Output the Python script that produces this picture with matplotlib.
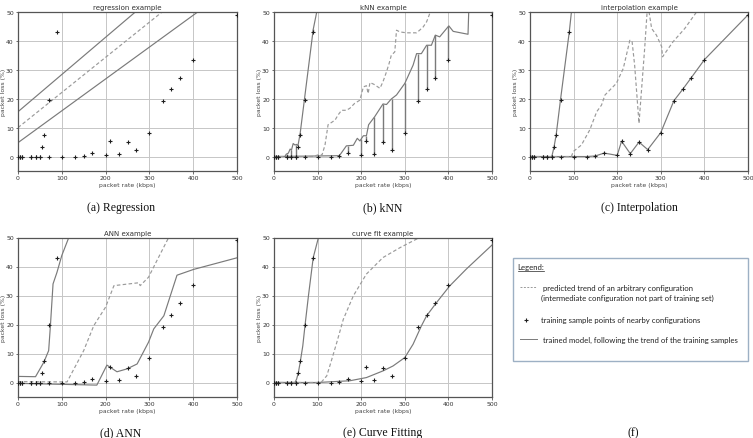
import matplotlib
matplotlib.use("Agg")
import matplotlib.pyplot as plt
import numpy as np
from matplotlib.lines import Line2D
from matplotlib.patches import Rectangle

# ---------------- data ----------------
x_ticks = [0, 100, 200, 300, 400, 500]
y_ticks = [0, 10, 20, 30, 40, 50]

# training samples: left (steep) configuration and right (gradual) configuration
left_x = [0, 5, 10, 30, 40, 50, 55, 60, 70, 90, 100]
left_y = [0, 0, 0, 0, 0, 0, 3.2, 7.5, 19.7, 43.0, 57.0]
right_x = [0, 5, 10, 30, 40, 50, 70, 100, 130, 150, 170, 200, 210, 230, 250,
           270, 300, 330, 350, 370, 400, 500]
right_y = [0, 0, 0, 0, 0, 0, 0, 0, 0, 0.2, 1.2, 0.4, 5.3, 1.0, 5.0,
           2.4, 8.3, 19.3, 23.2, 27.3, 33.5, 49.0]

# (a) regression
reg_x = [0, 500]
reg_upper = [15.5, 79.9]
reg_dashed = [10.0, 70.8]
reg_lower = [4.8, 59.9]

# (b) kNN
knn_left_x = [0, 25, 28, 33, 37, 40, 44, 48, 52, 55, 60, 70, 90, 98, 100]
knn_left_y = [0, 0, 0.8, 1.2, 2.6, 2.2, 4.5, 4.0, 4.2, 3.8, 8.0, 20.0, 44.0, 50.0, 52.0]
knn_right_x = [0, 150, 166, 182, 191, 197, 205, 212, 217, 231, 250, 258, 269, 281,
               300, 319, 327, 338, 350, 361, 370, 380, 401, 411, 445, 447]
knn_right_y = [0, 0.3, 3.7, 3.9, 6.3, 5.4, 7.2, 7.2, 11.0, 13.8, 18.2, 18.0, 19.9, 21.3,
               25.3, 31.6, 35.6, 35.6, 38.5, 38.5, 42.0, 41.4, 45.2, 43.3, 42.3, 52.0]
knn_dash_x = [0, 90, 105, 110, 117, 124, 132, 140, 147, 155, 166, 174, 185, 197, 205,
              212, 216, 220, 229, 243, 250, 258, 264, 269, 277, 281, 289, 304, 327,
              334, 342, 350, 357, 365]
knn_dash_y = [0, 0, 0.8, 0.5, 4.0, 11.0, 11.8, 12.6, 14.4, 16.0, 16.0, 16.7, 18.4, 19.5,
              24.1, 24.5, 21.8, 25.6, 25.0, 23.6, 25.9, 29.3, 32.2, 35.0, 36.2, 43.7,
              43.1, 42.8, 42.8, 43.7, 44.8, 46.6, 49.4, 51.0]

# (c) interpolation (predicted trend)
int_dash_x = [0, 95, 99, 118, 137, 153, 164, 172, 198, 214, 229, 234, 240, 250,
              263, 269, 272, 279, 290, 302, 304, 328, 355, 382]
int_dash_y = [0, 0, 1.7, 4.0, 9.2, 15.5, 17.8, 21.3, 25.3, 30.5, 40.2, 40.0, 31.6,
              11.5, 37.4, 51.0, 51.0, 44.3, 42.0, 38.0, 34.5, 39.7, 44.3, 50.0]

# (d) ANN
ann_left_x = [0, 40, 59, 70, 74, 80, 89, 100, 116]
ann_left_y = [2.1, 2.0, 7.0, 11.0, 19.6, 34.0, 38.0, 43.8, 50.0]
ann_right_x = [0, 180, 203, 226, 249, 272, 298, 310, 333, 348, 363, 401, 500]
ann_right_y = [-0.3, -0.9, 6.0, 3.7, 4.7, 6.4, 13.9, 18.5, 23.0, 30.0, 37.0, 39.0, 43.0]
ann_dash_x = [0, 112, 150, 173, 200, 219, 276, 279, 298, 317, 344]
ann_dash_y = [0.3, 0.2, 11.0, 19.6, 26.0, 33.4, 34.4, 33.4, 36.3, 42.0, 50.0]

# (e) curve fit
cf_left_x = [0, 48, 52, 56, 60, 66, 71, 79, 90, 102]
cf_left_y = [0, 0, 1.2, 3.5, 6.9, 12.6, 19.5, 29.9, 43.1, 50.0]
cf_dash_x = [0, 98, 109, 121, 128, 144, 159, 182, 212, 250, 289, 334]
cf_dash_y = [0, 0, 0.2, 2.3, 5.7, 13.8, 21.8, 29.9, 37.4, 43.1, 46.5, 50.0]
cf_right_x = [0, 100, 174, 212, 250, 273, 300, 319, 338, 350, 373, 403, 441, 500]
cf_right_y = [0, 0, 0.6, 1.7, 4.0, 5.7, 8.6, 13.2, 19.5, 23.0, 27.6, 33.3, 39.1, 47.4]

titles = ["regression example", "kNN example", "interpolation example",
          "ANN example", "curve fit example"]
captions = ["(a) Regression", "(b) kNN", "(c) Interpolation",
            "(d) ANN", "(e) Curve Fitting", "(f)"]
legend_lines = ["predicted trend of an arbitrary configuration",
                "(intermediate configuration not part of training set)",
                "training sample points of nearby configurations",
                "trained model, following the trend of the training samples"]

# ---------------- style ----------------
W, H = 753, 439
fig = plt.figure(figsize=(W / 100, H / 100), dpi=100)

SOLID = '#7a7a7a'
DASH = '#9a9a9a'
MARK = '#1e1e1e'


def ax_at(x0, y0, x1, y1):
    return fig.add_axes([x0 / W, 1 - y1 / H, (x1 - x0) / W, (y1 - y0) / H])


def style(ax, title):
    ax.set_xlim(0, 500)
    ax.set_ylim(-5, 50)
    ax.set_xticks(x_ticks)
    ax.set_yticks(y_ticks)
    ax.grid(True, color='#c6c6c6', lw=0.7)
    ax.set_axisbelow(True)
    ax.tick_params(labelsize=4.4, length=1.8, width=0.5, pad=1.2,
                   colors='#333333')
    ax.set_title(title, fontsize=5.0, pad=2, color='#333333')
    ax.set_xlabel('packet rate (kbps)', fontsize=4.4, labelpad=1.2,
                  color='#444444')
    ax.set_ylabel('packet loss (%)', fontsize=4.4, labelpad=0.4,
                  color='#444444')
    for s in ax.spines.values():
        s.set_color('#555555')
        s.set_linewidth(0.9)


def samples(ax):
    ax.plot(left_x, left_y, '+', color=MARK, ms=3.2, mew=0.8, zorder=4)
    ax.plot(right_x, right_y, '+', color=MARK, ms=3.2, mew=0.8, zorder=4)


LW = 0.85
rects = [(18, 13, 237, 172), (274, 13, 492, 172), (530, 13, 748, 172),
         (18, 238.5, 237, 398), (274, 238.5, 492, 398)]
axes = [ax_at(*r) for r in rects]
for ax, t in zip(axes, titles):
    style(ax, t)

# (a)
ax = axes[0]
ax.plot(reg_x, reg_upper, color=SOLID, lw=LW)
ax.plot(reg_x, reg_lower, color=SOLID, lw=LW)
ax.plot(reg_x, reg_dashed, '--', color=DASH, lw=LW, dashes=(3, 2))
samples(ax)

# (b)
ax = axes[1]
ax.plot(knn_left_x, knn_left_y, color=SOLID, lw=LW)
ax.plot(knn_right_x, knn_right_y, color=SOLID, lw=LW)
ax.plot(knn_dash_x, knn_dash_y, '--', color=DASH, lw=LW, dashes=(3, 2))
ax.vlines(left_x, left_y, np.interp(left_x, knn_left_x, knn_left_y),
          color=SOLID, lw=1.0)
ax.vlines(right_x, right_y, np.interp(right_x, knn_right_x, knn_right_y),
          color=SOLID, lw=1.0)
samples(ax)

# (c)
ax = axes[2]
ax.plot(left_x, left_y, color=SOLID, lw=LW)
ax.plot(right_x, right_y, color=SOLID, lw=LW)
ax.plot(int_dash_x, int_dash_y, '--', color=DASH, lw=LW, dashes=(3, 2))
samples(ax)

# (d)
ax = axes[3]
ax.plot(ann_left_x, ann_left_y, color=SOLID, lw=LW)
ax.plot(ann_right_x, ann_right_y, color=SOLID, lw=LW)
ax.plot(ann_dash_x, ann_dash_y, '--', color=DASH, lw=LW, dashes=(3, 2))
samples(ax)

# (e)
ax = axes[4]
ax.plot(cf_left_x, cf_left_y, color=SOLID, lw=LW)
ax.plot(cf_right_x, cf_right_y, color=SOLID, lw=LW)
ax.plot(cf_dash_x, cf_dash_y, '--', color=DASH, lw=LW, dashes=(3, 2))
samples(ax)

# captions
cap_pos = [(121, 208), (383, 208), (639, 208), (121, 433), (383, 433), (633, 433)]
for (cx, cy), c in zip(cap_pos, captions):
    fig.text(cx / W, 1 - cy / H, c, ha='center', va='center',
             family='Liberation Serif', fontsize=8.5, color='#111111')

# legend panel (f)
fig.patches.append(Rectangle((513 / W, 1 - 362 / H), 235 / W, 103 / H,
                             transform=fig.transFigure, fill=False,
                             edgecolor='#9db0c4', lw=1.0))
LF = dict(family=['Lato', 'DejaVu Sans'], fontsize=5.6, color='#222222',
          va='center', ha='left')
fig.text(517.5 / W, 1 - 268 / H, 'Legend:', **LF)
fig.lines.append(Line2D([517.5 / W, 544 / W], [1 - 272 / H, 1 - 272 / H],
                        transform=fig.transFigure, color='#222222', lw=0.5))
fig.lines.append(Line2D([520 / W, 537 / W], [1 - 288 / H, 1 - 288 / H],
                        transform=fig.transFigure, color=DASH, lw=0.7,
                        ls='--', dashes=(2, 1.5)))
fig.text(543 / W, 1 - 288 / H, legend_lines[0], **LF)
fig.text(541 / W, 1 - 298.5 / H, legend_lines[1], **LF)
fig.lines.append(Line2D([526 / W], [1 - 320.5 / H], transform=fig.transFigure,
                        marker='+', color=MARK, ms=3.2, mew=0.8, ls='none'))
fig.text(541 / W, 1 - 320.5 / H, legend_lines[2], **LF)
fig.lines.append(Line2D([520 / W, 537 / W], [1 - 340 / H, 1 - 340 / H],
                        transform=fig.transFigure, color=SOLID, lw=0.7))
fig.text(543 / W, 1 - 340 / H, legend_lines[3], **LF)

fig.savefig('out.png', dpi=100)
